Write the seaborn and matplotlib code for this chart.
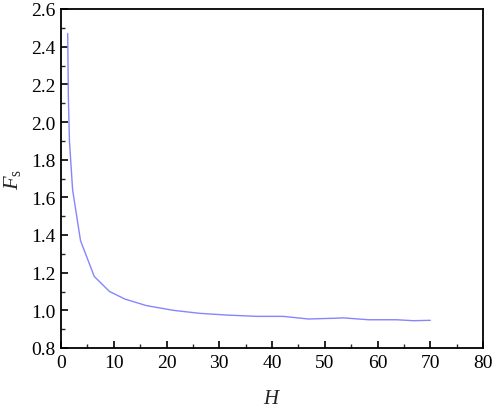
import matplotlib
matplotlib.use("Agg")
import matplotlib.pyplot as plt
import seaborn as sns
import pandas as pd
from matplotlib.ticker import MultipleLocator, AutoMinorLocator

H = [1.27, 1.39, 1.6, 2.2, 3.7, 6.3, 9.2, 12.1, 16.2, 21.3, 26.3, 31.4, 37.1, 42.1, 46.9, 51.9, 53.5, 58.3, 63.6, 66.8, 70.0]
Fs = [2.47, 2.14, 1.9, 1.64, 1.37, 1.18, 1.10, 1.06, 1.025, 1.0, 0.984, 0.975, 0.968, 0.968, 0.954, 0.958, 0.96, 0.95, 0.95, 0.945, 0.947]

df = pd.DataFrame({"H": H, "Fs": Fs})

sns.set_style("white")
plt.rcParams['font.family'] = ['Liberation Serif', 'DejaVu Serif']
plt.rcParams['mathtext.fontset'] = 'custom'
plt.rcParams['mathtext.it'] = 'Liberation Serif:italic'
plt.rcParams['mathtext.rm'] = 'Liberation Serif'

fig = plt.figure(figsize=(4.98, 4.14), dpi=100)
ax = fig.add_axes([61/498, 65/414, 422/498, 339/414])
sns.lineplot(data=df, x="H", y="Fs", ax=ax, color="#8585ff", linewidth=1.0, estimator=None, sort=False)

ax.set_xlim(0, 80)
ax.set_ylim(0.8, 2.6)
ax.xaxis.set_major_locator(MultipleLocator(10))
ax.xaxis.set_minor_locator(AutoMinorLocator(2))
ax.yaxis.set_major_locator(MultipleLocator(0.2))
ax.yaxis.set_minor_locator(AutoMinorLocator(2))
ax.yaxis.set_major_formatter(matplotlib.ticker.FormatStrFormatter('%.1f'))
ax.tick_params(which='major', direction='in', length=5, width=1.2, labelsize=14, colors='black', pad=4,
               bottom=True, left=True, top=False, right=False)
ax.tick_params(which='minor', direction='in', length=3, width=1.0, bottom=True, left=True, top=False, right=False)
for s in ax.spines.values():
    s.set_visible(True)
    s.set_color('black')
    s.set_linewidth(1.3)

ax.set_xlabel(r'$H$', fontsize=15, labelpad=13)
ax.set_ylabel(r'$F_{\mathrm{s}}$', fontsize=16, labelpad=6)

fig.savefig("out.png", dpi=100)
